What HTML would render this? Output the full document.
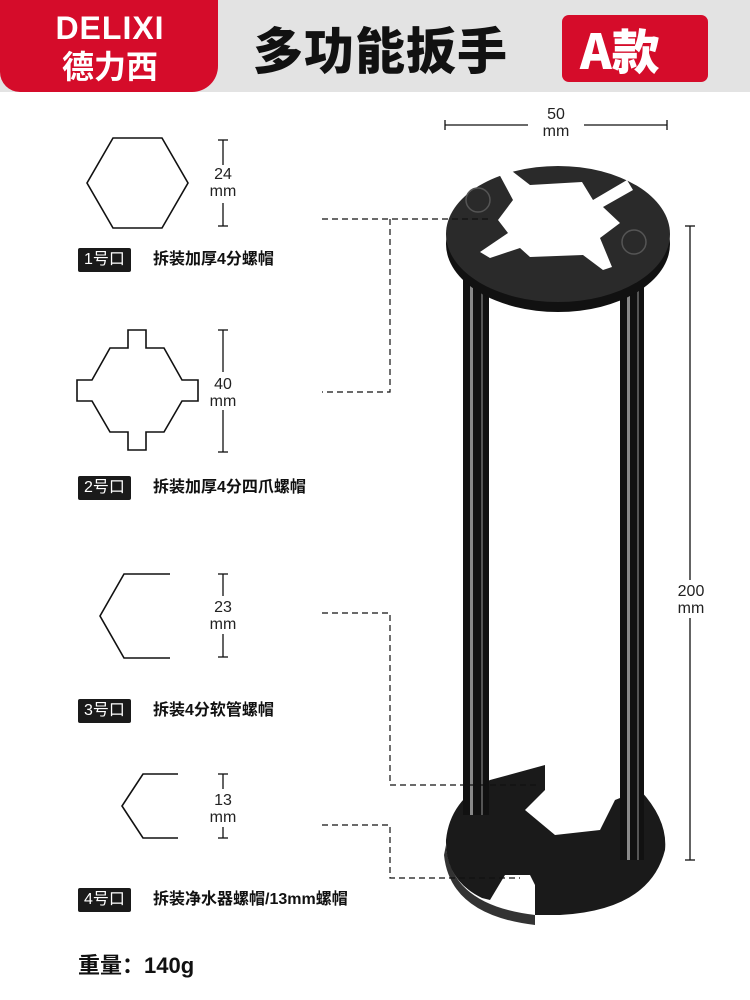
<!DOCTYPE html>
<html><head><meta charset="utf-8"><style>
body{margin:0;width:750px;height:1000px;background:#fff;position:relative;overflow:hidden;font-family:"Liberation Sans","Noto Sans CJK SC",sans-serif}
.t{position:absolute;white-space:nowrap}
.lab{position:absolute;background:#1a1a1a;color:#fff;font-size:16px;height:24px;line-height:24px;padding:0 6px;border-radius:2px}
.desc{position:absolute;font-size:16px;color:#111;line-height:24px;font-weight:bold}
</style></head><body>
<div style="position:absolute;left:0;top:0;width:750px;height:92px;background:#e3e3e3"></div>
<div style="position:absolute;left:0;top:0;width:218px;height:92px;background:#d50c2a;border-radius:0 0 26px 20px"></div>
<div class="t" style="left:30px;top:10px;width:160px;text-align:center;color:#fff;font:900 32px 'Liberation Sans',sans-serif;letter-spacing:1px">DELIXI</div>
<div class="t" style="left:30px;top:42px;width:160px;text-align:center;color:#fff;font-size:32px;font-weight:bold;font-family:'Noto Sans CJK SC',sans-serif">德力西</div>
<div class="t" style="left:253px;top:12px;font-size:50px;font-weight:900;color:#111;font-family:'Noto Sans CJK SC',sans-serif;letter-spacing:1px">多功能扳手</div>
<div style="position:absolute;left:562px;top:15px;width:146px;height:67px;background:#d50c2a;border-radius:7px"></div>
<div class="t" style="left:580px;top:13px;font-size:48px;font-weight:900;color:#fff;font-family:'Noto Sans CJK SC',sans-serif">A款</div>

<svg width="750" height="1000" style="position:absolute;left:0;top:0">
<g stroke="#111" stroke-width="1.6" fill="none">
<polygon points="113,138 162,138 188,183 162,228 113,228 87,183"/>
<polygon points="128,330 146,330 146,348 164,348 182,380 198,380 198,401 182,401 164,432 146,432 146,450 128,450 128,432 110,432 92,401 77,401 77,380 92,380 110,348 128,348"/>
<polyline points="170,574 124,574 100,616 124,658 170,658"/>
<polyline points="178,774 143,774 122,806 143,838 178,838"/>
</g>
<g stroke="#111" stroke-width="1.3">
<line x1="223" y1="140" x2="223" y2="226"/><line x1="218" y1="140" x2="228" y2="140"/><line x1="218" y1="226" x2="228" y2="226"/>
<line x1="223" y1="330" x2="223" y2="452"/><line x1="218" y1="330" x2="228" y2="330"/><line x1="218" y1="452" x2="228" y2="452"/>
<line x1="223" y1="574" x2="223" y2="657"/><line x1="218" y1="574" x2="228" y2="574"/><line x1="218" y1="657" x2="228" y2="657"/>
<line x1="223" y1="774" x2="223" y2="838"/><line x1="218" y1="774" x2="228" y2="774"/><line x1="218" y1="838" x2="228" y2="838"/>
<line x1="445" y1="125" x2="667" y2="125"/><line x1="445" y1="120" x2="445" y2="130"/><line x1="667" y1="120" x2="667" y2="130"/>
<line x1="690" y1="226" x2="690" y2="860"/><line x1="685" y1="226" x2="695" y2="226"/><line x1="685" y1="860" x2="695" y2="860"/>
</g>
<rect x="528" y="114" width="56" height="30" fill="#fff"/>
<rect x="673" y="580" width="36" height="38" fill="#fff"/>
<rect x="205" y="165" width="36" height="38" fill="#fff"/>
<rect x="205" y="372" width="36" height="38" fill="#fff"/>
<rect x="205" y="596" width="36" height="38" fill="#fff"/>
<rect x="205" y="789" width="36" height="38" fill="#fff"/>
<!-- bottom disc -->
<path d="M446,845 Q450,905 535,915 L535,925 Q450,915 444,855 Z" fill="#333"/>
<path d="M490,780 L545,765 L545,790 L525,810 L555,835 L600,830 L615,800 L640,790 Q668,820 665,850 Q650,910 560,915 L535,915 L535,885 L530,875 L505,875 L490,900 L482,898 Q445,880 446,840 Q450,800 490,780 Z" fill="#1a1a1a"/>
<!-- legs -->
<rect x="463" y="280" width="26" height="535" fill="#111"/>
<rect x="470" y="280" width="3" height="535" fill="#888"/>
<rect x="481" y="280" width="2" height="535" fill="#555"/>
<rect x="620" y="280" width="24" height="580" fill="#111"/>
<rect x="627" y="280" width="3" height="580" fill="#888"/>
<rect x="637" y="280" width="2" height="580" fill="#555"/>
<!-- top ring -->
<ellipse cx="558" cy="244" rx="112" ry="68" fill="#111"/>
<ellipse cx="558" cy="234" rx="112" ry="68" fill="#2a2a2a"/>
<path d="M498,172 L508,168 L530,185 L582,182 L593,200 L627,180 L633,190 L603,207 L620,223 L600,238 L612,267 L603,270 L583,255 L530,257 L520,248 L490,258 L480,252 L508,233 L498,220 L513,200 Z" fill="#fff"/>
<circle cx="478" cy="200" r="12" fill="none" stroke="#555" stroke-width="1.5"/>
<circle cx="634" cy="242" r="12" fill="none" stroke="#555" stroke-width="1.5"/>
<g stroke="#111" stroke-width="1.2" stroke-dasharray="6,4" fill="none">
<polyline points="322,219 492,219"/>
<polyline points="390,219 390,392 322,392"/>
<polyline points="322,613 390,613 390,785 540,785"/>
<polyline points="322,825 390,825 390,878 520,878"/>
</g>
</svg>
<div class="t" style="left:529px;top:106px;width:54px;text-align:center;font-size:16px;line-height:17px;color:#222">50<br>mm</div>
<div class="t" style="left:672px;top:583px;width:38px;text-align:center;font-size:16px;line-height:17px;color:#222">200<br>mm</div>
<div class="t" style="left:205px;top:166px;width:36px;text-align:center;font-size:16px;line-height:17px;color:#222">24<br>mm</div>
<div class="t" style="left:205px;top:376px;width:36px;text-align:center;font-size:16px;line-height:17px;color:#222">40<br>mm</div>
<div class="t" style="left:205px;top:599px;width:36px;text-align:center;font-size:16px;line-height:17px;color:#222">23<br>mm</div>
<div class="t" style="left:205px;top:792px;width:36px;text-align:center;font-size:16px;line-height:17px;color:#222">13<br>mm</div>
<div class="lab" style="left:78px;top:248px">1号口</div><div class="desc" style="left:153px;top:248px">拆装加厚4分螺帽</div>
<div class="lab" style="left:78px;top:476px">2号口</div><div class="desc" style="left:153px;top:476px">拆装加厚4分四爪螺帽</div>
<div class="lab" style="left:78px;top:699px">3号口</div><div class="desc" style="left:153px;top:699px">拆装4分软管螺帽</div>
<div class="lab" style="left:78px;top:888px">4号口</div><div class="desc" style="left:153px;top:888px">拆装净水器螺帽/13mm螺帽</div>
<div class="t" style="left:78px;top:948px;font-size:22px;color:#111;font-weight:bold">重量：140g</div>
</body></html>
